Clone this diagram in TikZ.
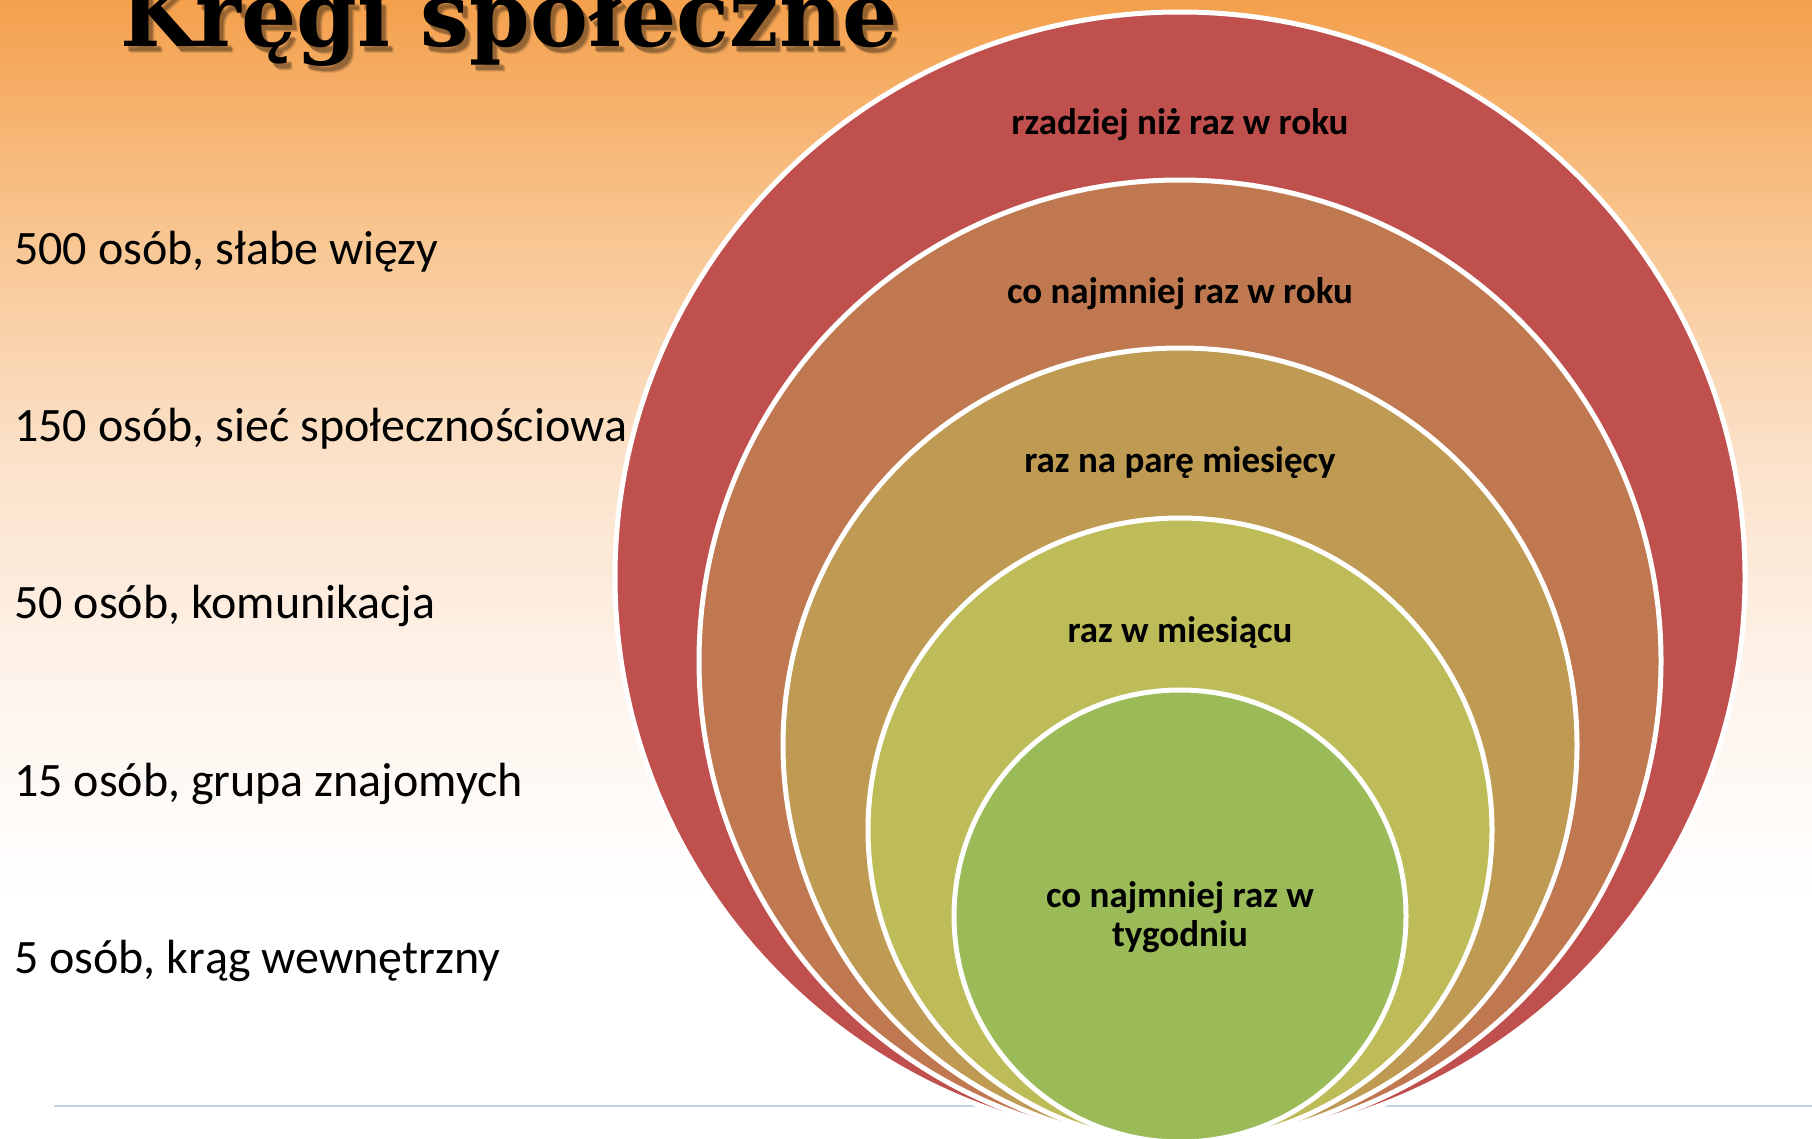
\documentclass[tikz,border=0pt]{standalone}
\usepackage{fontspec}
\setmainfont{Carlito}
\newfontfamily\headfont{DejaVu Serif}

\definecolor{bgTop}{RGB}{244,160,76}
\definecolor{bgA}{RGB}{248,197,144}
\definecolor{bgB}{RGB}{251,226,202}
\definecolor{bgC}{RGB}{254,245,238}
\definecolor{ringA}{RGB}{192,80,77}
\definecolor{ringB}{RGB}{191,120,79}
\definecolor{ringC}{RGB}{190,154,82}
\definecolor{ringD}{RGB}{190,188,88}
\definecolor{ringE}{RGB}{155,187,89}
\definecolor{ruleblue}{RGB}{190,210,236}

% slide background: orange at the top fading to white
\pgfdeclareverticalshading{slidebg}{100bp}{%
  color(0bp)=(white); color(25bp)=(white); color(35.5bp)=(white);
  color(44.2bp)=(bgC); color(54.8bp)=(bgB); color(64.9bp)=(bgA);
  color(75bp)=(bgTop); color(100bp)=(bgTop)}

\tikzset{
  ring/.style={fill=#1, draw=white, line width=5pt},
  ringlabel/.style={inner sep=0pt, anchor=base, font=\bfseries\fontsize{37}{40}\selectfont},
  sidelabel/.style={inner sep=0pt, anchor=base west, font=\fontsize{48}{52}\selectfont},
  headline/.style={inner sep=0pt, anchor=base west, font=\headfont\bfseries\fontsize{90}{92}\selectfont},
}

\begin{document}
\begin{tikzpicture}[x=1pt,y=-1pt]
\useasboundingbox (0,0) rectangle (1812,1138);
\clip (0,0) rectangle (1812,1138);
\shade[shading=slidebg] (0,0) rectangle (1812,1138);

% thin rule near the bottom edge
\draw[ruleblue, line width=2.7pt] (54,1106) -- (1812,1106);

% title with soft drop shadow
\foreach \dx/\dy/\op in {6/7/0.12, 5/6/0.18, 4/5/0.25}
  \node[headline, text=black!80!brown, opacity=\op] at (120+\dx,46+\dy) {\scalebox{0.965}[1]{Kręgi społeczne}};
\node[headline] (title) at (120,46) {\scalebox{0.965}[1]{Kręgi społeczne}};

% nested circles, all touching at the bottom
\path[ring=ringA] (1180,577) circle[radius=565];
\path[ring=ringB] (1180,661) circle[radius=481];
\path[ring=ringC] (1180,745) circle[radius=397];
\path[ring=ringD] (1180,830) circle[radius=312];
\path[ring=ringE] (1180,916) circle[radius=226];

\node[ringlabel] (f1) at (1180,134) {rzadziej niż raz w roku};
\node[ringlabel] (f2) at (1180,303) {co najmniej raz w roku};
\node[ringlabel] (f3) at (1180,472) {raz na parę miesięcy};
\node[ringlabel] (f4) at (1180,642) {raz w miesiącu};
\node[ringlabel] (f5a) at (1180,907) {co najmniej raz w};
\node[ringlabel] (f5b) at (1180,946) {tygodniu};

% circle sizes on the left
\node[sidelabel] (s1) at (14,264) {500 osób, słabe więzy};
\node[sidelabel] (s2) at (14,441) {150 osób, sieć społecznościowa};
\node[sidelabel] (s3) at (14,618) {50 osób, komunikacja};
\node[sidelabel] (s4) at (14,796) {15 osób, grupa znajomych};
\node[sidelabel] (s5) at (14,973) {5 osób, krąg wewnętrzny};
\end{tikzpicture}
\end{document}
